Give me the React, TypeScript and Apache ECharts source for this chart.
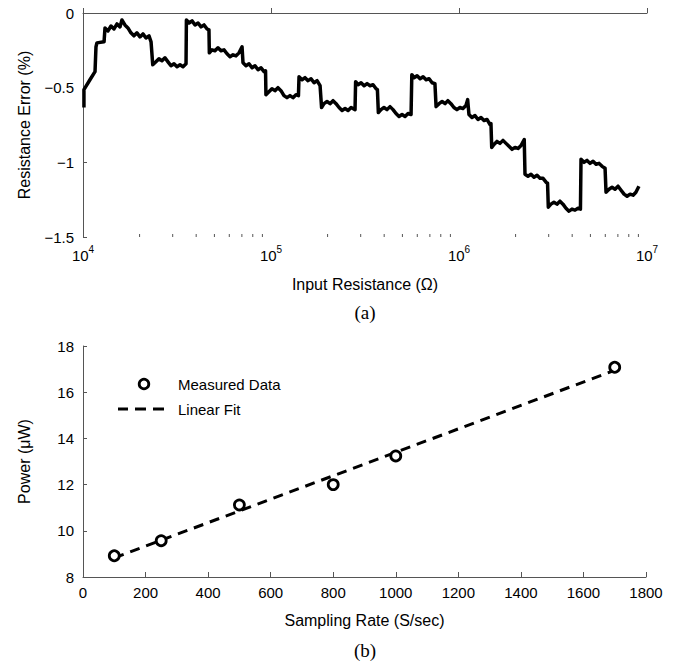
import React, { useEffect, useRef } from "react";
import * as echarts from "echarts";

// Panel (a): log10(input resistance, ohm) vs resistance error (%)
const errorCurve: [number, number][] = [
  [4.005, -0.633], [4.005, -0.513], [4.037, -0.447], [4.064, -0.393], [4.069, -0.227], [4.074, -0.2], [4.112, -0.193], [4.117, -0.1],
  [4.133, -0.12], [4.149, -0.087], [4.165, -0.107], [4.181, -0.073], [4.197, -0.093], [4.207, -0.047], [4.223, -0.08], [4.239, -0.1],
  [4.255, -0.133], [4.271, -0.153], [4.287, -0.133], [4.303, -0.16], [4.319, -0.14], [4.335, -0.167], [4.351, -0.153], [4.362, -0.193],
  [4.371, -0.347], [4.388, -0.327], [4.404, -0.307], [4.42, -0.32], [4.436, -0.3], [4.452, -0.327], [4.468, -0.353], [4.484, -0.34],
  [4.5, -0.36], [4.516, -0.347], [4.532, -0.36], [4.548, -0.34],
  [4.55, -0.047], [4.564, -0.067], [4.58, -0.053], [4.596, -0.08], [4.612, -0.067], [4.628, -0.093], [4.644, -0.08], [4.66, -0.107], [4.67, -0.113],
  [4.672, -0.267], [4.686, -0.247], [4.702, -0.253], [4.718, -0.233], [4.734, -0.253], [4.75, -0.247], [4.766, -0.273], [4.782, -0.293],
  [4.798, -0.28], [4.814, -0.287], [4.83, -0.267], [4.846, -0.227],
  [4.851, -0.333], [4.867, -0.353], [4.883, -0.34], [4.899, -0.367], [4.915, -0.353], [4.931, -0.38], [4.947, -0.367], [4.963, -0.393], [4.971, -0.387],
  [4.973, -0.547], [4.989, -0.527], [5.005, -0.507], [5.021, -0.52], [5.037, -0.5], [5.053, -0.52], [5.069, -0.553], [5.085, -0.567],
  [5.101, -0.553], [5.117, -0.567], [5.133, -0.547], [5.146, -0.553],
  [5.149, -0.427], [5.165, -0.447], [5.181, -0.433], [5.197, -0.453], [5.213, -0.44], [5.229, -0.467], [5.245, -0.453], [5.261, -0.487],
  [5.269, -0.633], [5.282, -0.607], [5.298, -0.593], [5.314, -0.607], [5.33, -0.587], [5.346, -0.607], [5.362, -0.633], [5.378, -0.653],
  [5.394, -0.64], [5.41, -0.653], [5.426, -0.633], [5.447, -0.647],
  [5.45, -0.46], [5.463, -0.48], [5.479, -0.467], [5.495, -0.487], [5.511, -0.473], [5.527, -0.487], [5.543, -0.48], [5.559, -0.507], [5.566, -0.513],
  [5.571, -0.667], [5.585, -0.647], [5.601, -0.633], [5.617, -0.647], [5.633, -0.627], [5.649, -0.647], [5.665, -0.673], [5.681, -0.693],
  [5.697, -0.68], [5.713, -0.693], [5.729, -0.673], [5.745, -0.68],
  [5.749, -0.413], [5.761, -0.433], [5.777, -0.42], [5.793, -0.44], [5.809, -0.427], [5.825, -0.447], [5.841, -0.44], [5.857, -0.467], [5.872, -0.473],
  [5.878, -0.627], [5.894, -0.607], [5.91, -0.593], [5.926, -0.607], [5.941, -0.587], [5.957, -0.607], [5.973, -0.633], [5.989, -0.647],
  [6.005, -0.633], [6.021, -0.64], [6.037, -0.62], [6.046, -0.58],
  [6.053, -0.68], [6.069, -0.7], [6.085, -0.687], [6.101, -0.713], [6.117, -0.7], [6.133, -0.72], [6.149, -0.713], [6.165, -0.747], [6.17, -0.74],
  [6.174, -0.9], [6.186, -0.88], [6.202, -0.86], [6.218, -0.873], [6.234, -0.853], [6.25, -0.873], [6.266, -0.893], [6.282, -0.913],
  [6.298, -0.9], [6.314, -0.907], [6.33, -0.887], [6.347, -0.847],
  [6.351, -1.08], [6.367, -1.093], [6.383, -1.08], [6.399, -1.1], [6.415, -1.087], [6.431, -1.107], [6.447, -1.107], [6.463, -1.133], [6.471, -1.14],
  [6.475, -1.3], [6.489, -1.28], [6.505, -1.267], [6.521, -1.28], [6.537, -1.26], [6.553, -1.28], [6.569, -1.307], [6.585, -1.327],
  [6.601, -1.313], [6.617, -1.32], [6.633, -1.307], [6.646, -1.313],
  [6.649, -0.98], [6.665, -1.0], [6.681, -0.987], [6.697, -1.007], [6.713, -0.993], [6.729, -1.013], [6.745, -1.007], [6.761, -1.027], [6.777, -1.04],
  [6.782, -1.2], [6.798, -1.18], [6.814, -1.167], [6.83, -1.18], [6.846, -1.16], [6.862, -1.187], [6.878, -1.213], [6.894, -1.227],
  [6.91, -1.213], [6.926, -1.22], [6.941, -1.2], [6.957, -1.16],
];

const decadeExponents = [4, 5, 6];
const minorMultipliers = [2, 3, 4, 5, 6, 7, 8, 9];
const errorTicks = [-1.5, -1, -0.5, 0];

// Panel (b): sampling rate vs power
const samplingRate = [100, 250, 500, 800, 1000, 1700];
const powerUW = [8.92, 9.57, 11.12, 12.0, 13.24, 17.08];
const fitLine: [number, number][] = [
  [100, 8.83],
  [1700, 16.95],
];
const legendLabels = ["Measured Data", "Linear Fit"];

const FONT = "Liberation Sans";
const SERIF = "Liberation Serif";
const AXIS_COLOR = "#555";
const TICK_FS = 15;
const NAME_FS = 16;

export default function App() {
  const ref = useRef<HTMLDivElement>(null);

  useEffect(() => {
    if (!ref.current) return;
    const chart = echarts.init(ref.current, undefined, { renderer: "svg" });

    const minorTickValues: [number, number][] = [];
    decadeExponents.forEach((e) =>
      minorMultipliers.forEach((m) => minorTickValues.push([e + Math.log10(m), errorTicks[0]]))
    );

    const fmtErr = (v: number) => (v === 0 ? "0" : (v < 0 ? "\u2212" : "") + String(Math.abs(v)));
    const nameStyle = { fontSize: NAME_FS, fontFamily: FONT, color: "#000" };
    const labelStyle = { fontSize: TICK_FS, color: "#000", fontFamily: FONT };

    const option: any = {
      animation: false,
      backgroundColor: "#fff",
      textStyle: { fontFamily: FONT, color: "#000" },
      grid: [
        { left: 83, top: 13, width: 564, height: 224 },
        { left: 83, top: 346, width: 563, height: 231 },
      ],
      xAxis: [
        {
          gridIndex: 0,
          type: "value",
          min: 4,
          max: 7,
          interval: 1,
          name: "Input Resistance (\u03A9)",
          nameLocation: "middle",
          nameGap: 39,
          nameTextStyle: nameStyle,
          axisLine: { lineStyle: { color: AXIS_COLOR, width: 1 } },
          axisTick: { inside: true, length: 5, lineStyle: { color: AXIS_COLOR } },
          splitLine: { show: false },
          axisLabel: {
            margin: 7,
            formatter: (v: number) => `{b|10}{s|${v}}`,
            rich: {
              b: { fontSize: TICK_FS, lineHeight: 19, verticalAlign: "bottom", fontFamily: FONT, color: "#000" },
              s: { fontSize: 10, lineHeight: 10, verticalAlign: "top", fontFamily: FONT, color: "#000" },
            },
          },
        },
        {
          gridIndex: 1,
          type: "value",
          min: 0,
          max: 1800,
          interval: 200,
          name: "Sampling Rate (S/sec)",
          nameLocation: "middle",
          nameGap: 35,
          nameTextStyle: nameStyle,
          axisLine: { lineStyle: { color: AXIS_COLOR, width: 1 } },
          axisTick: { inside: true, length: 5, lineStyle: { color: AXIS_COLOR } },
          splitLine: { show: false },
          axisLabel: { ...labelStyle, margin: 8, formatter: (v: number) => String(v) },
        },
      ],
      yAxis: [
        {
          gridIndex: 0,
          type: "value",
          min: -1.5,
          max: 0,
          interval: 0.5,
          name: "Resistance Error (%)",
          nameLocation: "middle",
          nameGap: 51,
          nameTextStyle: nameStyle,
          axisLine: { show: true, lineStyle: { color: AXIS_COLOR, width: 1 } },
          axisTick: { show: true, inside: true, length: 4, lineStyle: { color: AXIS_COLOR } },
          splitLine: { show: false },
          axisLabel: { ...labelStyle, margin: 9, formatter: fmtErr },
        },
        {
          gridIndex: 1,
          type: "value",
          min: 8,
          max: 18,
          interval: 2,
          name: "Power (\u03BCW)",
          nameLocation: "middle",
          nameGap: 51,
          nameTextStyle: nameStyle,
          axisLine: { show: true, lineStyle: { color: AXIS_COLOR, width: 1 } },
          axisTick: { show: true, inside: true, length: 4, lineStyle: { color: AXIS_COLOR } },
          splitLine: { show: false },
          axisLabel: { ...labelStyle, margin: 9, formatter: (v: number) => String(v) },
        },
      ],
      series: [
        {
          name: "Resistance Error",
          type: "line",
          xAxisIndex: 0,
          yAxisIndex: 0,
          data: errorCurve,
          showSymbol: false,
          symbol: "none",
          lineStyle: { color: "#000", width: 3.5, join: "round" },
          z: 3,
        },
        {
          name: "minor ticks",
          type: "custom",
          xAxisIndex: 0,
          yAxisIndex: 0,
          silent: true,
          clip: false,
          data: minorTickValues,
          renderItem: (_params: any, api: any) => {
            const p = api.coord([api.value(0), api.value(1)]);
            return {
              type: "line",
              shape: { x1: p[0], y1: p[1], x2: p[0], y2: p[1] - 3 },
              style: { stroke: AXIS_COLOR, lineWidth: 1 },
            };
          },
          z: 1,
        },
        {
          name: legendLabels[1],
          type: "line",
          xAxisIndex: 1,
          yAxisIndex: 1,
          data: fitLine,
          symbol: "none",
          lineStyle: { color: "#000", width: 3, type: [10, 7] },
          itemStyle: { color: "#000" },
          z: 2,
        },
        {
          name: legendLabels[0],
          type: "scatter",
          xAxisIndex: 1,
          yAxisIndex: 1,
          data: samplingRate.map((x, i) => [x, powerUW[i]]),
          symbol: "circle",
          symbolSize: 10,
          itemStyle: { color: "#fff", borderColor: "#000", borderWidth: 2.8, opacity: 1 },
          z: 4,
        },
      ],
      graphic: [
        // legend
        {
          type: "circle",
          shape: { cx: 144, cy: 384, r: 4.8 },
          style: { fill: "#fff", stroke: "#000", lineWidth: 2.8 },
        },
        { type: "rect", shape: { x: 118, y: 407.5, width: 10, height: 3 }, style: { fill: "#000" } },
        { type: "rect", shape: { x: 135, y: 407.5, width: 11, height: 3 }, style: { fill: "#000" } },
        { type: "rect", shape: { x: 153, y: 407.5, width: 11, height: 3 }, style: { fill: "#000" } },
        {
          type: "text",
          x: 178,
          y: 384,
          style: { text: legendLabels[0], fontSize: TICK_FS, fontFamily: FONT, fill: "#000", verticalAlign: "middle" },
        },
        {
          type: "text",
          x: 178,
          y: 409,
          style: { text: legendLabels[1], fontSize: TICK_FS, fontFamily: FONT, fill: "#000", verticalAlign: "middle" },
        },
        // panel labels
        {
          type: "text",
          x: 365,
          y: 312,
          style: { text: "(a)", fontSize: 19, fontFamily: SERIF, fill: "#000", align: "center", verticalAlign: "middle" },
        },
        {
          type: "text",
          x: 365,
          y: 650,
          style: { text: "(b)", fontSize: 19, fontFamily: SERIF, fill: "#000", align: "center", verticalAlign: "middle" },
        },
      ],
    };

    chart.setOption(option);
    return () => chart.dispose();
  }, []);

  return (
    <div
      ref={ref}
      style={{ position: "fixed", left: 0, top: 0, width: 674, height: 662, background: "#fff" }}
    />
  );
}
